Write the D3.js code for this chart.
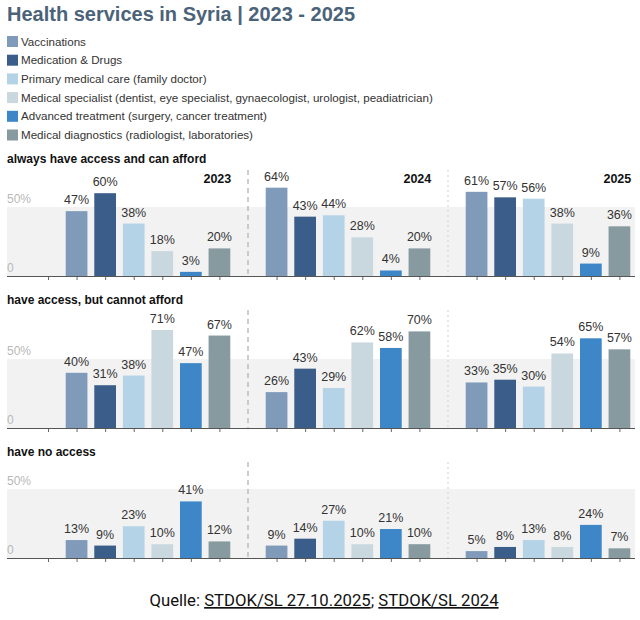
<!DOCTYPE html>
<html>
<head>
<meta charset="utf-8">
<script src="https://cdn.jsdelivr.net/npm/d3@7"></script>
<style>
  body { margin: 0; background: #fff; }
  svg { font-family: "Liberation Sans", Arial, sans-serif; }
</style>
</head>
<body>
<svg id="chart" width="640" height="620"></svg>
<script>
"use strict";

const categories = [
  "Vaccinations",
  "Medication & Drugs",
  "Primary medical care (family doctor)",
  "Medical specialist (dentist, eye specialist, gynaecologist, urologist, peadiatrician)",
  "Advanced treatment (surgery, cancer treatment)",
  "Medical diagnostics (radiologist, laboratories)"
];
const colors = ["#7f9bb9", "#3a5d89", "#b4d3e6", "#c8d8de", "#3d87c9", "#879a9f"];
const years = ["2023", "2024", "2025"];
const groups = [
  "always have access and can afford",
  "have access, but cannot afford",
  "have no access"
];

// values per group, per year, per category (%)
const affordValues = [
  [47, 60, 38, 18, 3, 20],
  [64, 43, 44, 28, 4, 20],
  [61, 57, 56, 38, 9, 36]
];
const noAffordValues = [
  [40, 31, 38, 71, 47, 67],
  [26, 43, 29, 62, 58, 70],
  [33, 35, 30, 54, 65, 57]
];
const noAccessValues = [
  [13, 9, 23, 10, 41, 12],
  [9, 14, 27, 10, 21, 10],
  [5, 8, 13, 8, 24, 7]
];
const groupValues = [affordValues, noAffordValues, noAccessValues];
const yTicks = [0, 50];

const svg = d3.select("#chart");

// Title
svg.append("text")
  .attr("x", 7).attr("y", 21)
  .attr("font-size", 20).attr("font-weight", "bold")
  .attr("fill", "#4b6379")
  .text("Health services in Syria | 2023 - 2025");

// Legend
const legend = svg.append("g").attr("transform", "translate(7, 36)");
const legendItems = legend.selectAll("g")
  .data(categories)
  .join("g")
  .attr("transform", (d, i) => `translate(0, ${i * 18.7})`);
legendItems.append("rect")
  .attr("width", 11).attr("height", 11)
  .attr("fill", (d, i) => colors[i]);
legendItems.append("text")
  .attr("x", 14).attr("y", 9.5)
  .attr("font-size", 11.6).attr("fill", "#333")
  .text(d => d);

// x: one slot per bar, a 7-slot block per year
const slotsPerYear = 7;
const x = d3.scaleLinear().domain([0, slotsPerYear]).range([48, 248]);
const barWidth = (x(1) - x(0)) * 0.76;
const plotLeft = 7, plotRight = 635;

const rows = [
  { top: 170, base: 276, titleY: 163 },
  { top: 310, base: 428, titleY: 304 },
  { top: 462, base: 558, titleY: 456 }
];

groups.forEach((name, gi) => {
  const row = rows[gi];
  const y = d3.scaleLinear().domain([0, 100]).range([row.base, row.base - 138]);
  const g = svg.append("g");

  g.append("text")
    .attr("x", 7).attr("y", row.titleY)
    .attr("font-size", 12).attr("font-weight", "bold").attr("fill", "#111")
    .text(name);

  // grey band 0-50%
  g.append("rect")
    .attr("x", plotLeft).attr("width", plotRight - plotLeft)
    .attr("y", y(50)).attr("height", y(0) - y(50))
    .attr("fill", "#f2f2f2");

  g.selectAll("text.ytick")
    .data(yTicks)
    .join("text")
    .attr("class", "ytick")
    .attr("x", 7).attr("y", d => y(d) - 4)
    .attr("font-size", 12).attr("fill", "#b8b8b8")
    .text(d => d === 0 ? "0" : d + "%");

  // year dividers
  [1, 2].forEach(k => {
    g.append("line")
      .attr("x1", x(k * slotsPerYear)).attr("x2", x(k * slotsPerYear))
      .attr("y1", row.top).attr("y2", row.base)
      .attr("stroke", k === 1 ? "#bdbdbd" : "#cfcfcf")
      .attr("stroke-width", k === 1 ? 1.5 : 1)
      .attr("stroke-dasharray", k === 1 ? "5,4" : "2,3");
  });

  const bars = [];
  groupValues[gi].forEach((vals, yi) => {
    vals.forEach((v, ci) => bars.push({ v, ci, slot: yi * slotsPerYear + ci + 1 }));
  });

  g.selectAll("rect.bar")
    .data(bars)
    .join("rect")
    .attr("class", "bar")
    .attr("x", d => x(d.slot) - barWidth / 2)
    .attr("width", barWidth)
    .attr("y", d => y(d.v))
    .attr("height", d => y(0) - y(d.v))
    .attr("fill", d => colors[d.ci]);

  g.selectAll("text.val")
    .data(bars)
    .join("text")
    .attr("class", "val")
    .attr("x", d => x(d.slot))
    .attr("y", d => y(d.v) - 7)
    .attr("text-anchor", "middle")
    .attr("font-size", 12.5).attr("fill", "#333")
    .text(d => d.v + "%");

  // axis
  const tickSlots = d3.range(0, 3 * slotsPerYear).filter(s => s % slotsPerYear !== 0 || s === 0);
  const axis = d3.axisBottom(x).tickValues(tickSlots).tickSize(4).tickFormat("");
  const ax = g.append("g")
    .attr("transform", `translate(0, ${row.base})`)
    .call(axis);
  ax.select(".domain").remove();
  ax.selectAll(".tick line").attr("stroke", "#666");
  g.append("line")
    .attr("x1", plotLeft).attr("x2", plotRight)
    .attr("y1", row.base + 0.5).attr("y2", row.base + 0.5)
    .attr("stroke", "#555");

  if (gi === 0) {
    g.selectAll("text.year")
      .data(years)
      .join("text")
      .attr("class", "year")
      .attr("x", (d, i) => x(i * slotsPerYear + 6) + barWidth / 2 + 1)
      .attr("y", row.top + 13)
      .attr("text-anchor", "end")
      .attr("font-size", 12.5).attr("font-weight", "bold").attr("fill", "#111")
      .text(d => d);
  }
});

// Source line
const src = svg.append("text")
  .attr("x", 324).attr("y", 606)
  .attr("text-anchor", "middle")
  .attr("font-family", "Roboto, sans-serif")
  .attr("font-size", 16.7).attr("fill", "#111");
src.append("tspan").text("Quelle: ");
src.append("tspan").attr("text-decoration", "underline").text("STDOK/SL 27.10.2025");
src.append("tspan").text("; ");
src.append("tspan").attr("text-decoration", "underline").text("STDOK/SL 2024");
</script>
</body>
</html>
